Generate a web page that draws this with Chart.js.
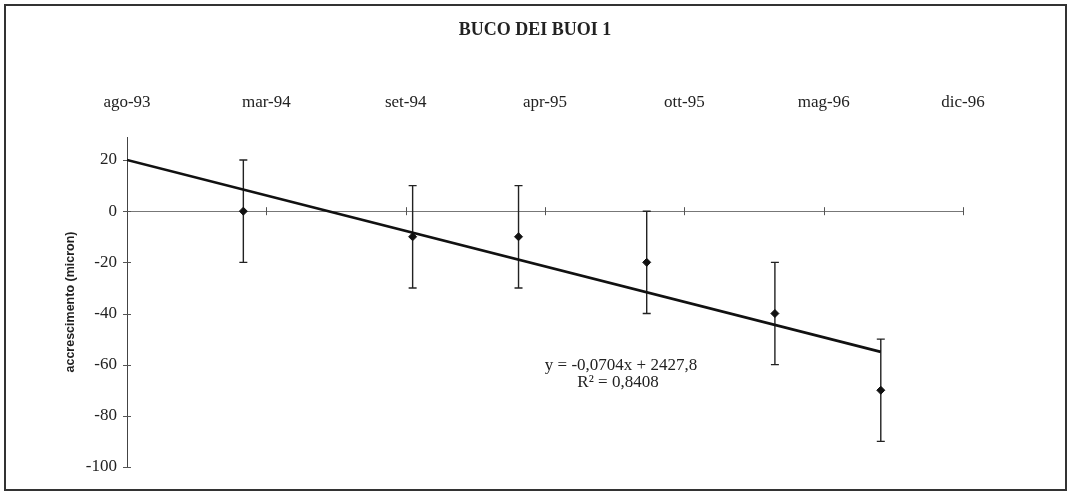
<!DOCTYPE html>
<html>
<head>
<meta charset="utf-8">
<script src="https://cdn.jsdelivr.net/npm/chart.js@4.4.0/dist/chart.umd.min.js"></script>
<style>
  html, body { margin: 0; padding: 0; background: #fff; }
  canvas { display: block; }
</style>
</head>
<body>
<canvas id="c" width="1070" height="492"></canvas>
<script>
// ---- data (x = date as spreadsheet day serial) ----
const xDates = [34368, 34611, 34763, 34947, 35131, 35283];
const yValues = [0, -10, -10, -20, -40, -70];
const yErrors = [20, 20, 20, 20, 20, 20];
const trendX = [34201, 35283];
const trendY = [20, -55];
const xTickValues = [34201, 34401, 34601, 34801, 35001, 35201, 35401];
const xTickLabels = ['ago-93', 'mar-94', 'set-94', 'apr-95', 'ott-95', 'mag-96', 'dic-96'];
const yTickValues = [-100, -80, -60, -40, -20, 0, 20];
const titleText = 'BUCO DEI BUOI 1';
const yTitleText = 'accrescimento (micron)';
const eqLine1 = 'y = -0,0704x + 2427,8';
const eqLine2 = 'R² = 0,8408';

const SERIF = '"Liberation Serif", "Times New Roman", serif';

const framePlugin = {
  id: 'frame',
  beforeDraw(chart) {
    const ctx = chart.ctx;
    ctx.save();
    ctx.fillStyle = '#fff';
    ctx.fillRect(0, 0, chart.width, chart.height);
    ctx.strokeStyle = '#333';
    ctx.lineWidth = 2;
    ctx.strokeRect(5, 5, 1061, 485);
    ctx.restore();
  }
};

const errorBarPlugin = {
  id: 'errorBars',
  beforeDatasetsDraw(chart) {
    const ctx = chart.ctx;
    const xs = chart.scales.x, ys = chart.scales.y;
    ctx.save();
    ctx.strokeStyle = '#222';
    ctx.lineWidth = 1.4;
    for (let i = 0; i < xDates.length; i++) {
      const px = xs.getPixelForValue(xDates[i]);
      const top = ys.getPixelForValue(yValues[i] + yErrors[i]);
      const bot = ys.getPixelForValue(yValues[i] - yErrors[i]);
      ctx.beginPath();
      ctx.moveTo(px, top); ctx.lineTo(px, bot);
      ctx.moveTo(px - 4, top); ctx.lineTo(px + 4, top);
      ctx.moveTo(px - 4, bot); ctx.lineTo(px + 4, bot);
      ctx.stroke();
    }
    ctx.restore();
  }
};

const crossTicksPlugin = {
  id: 'crossTicks',
  beforeDatasetsDraw(chart) {
    const ctx = chart.ctx;
    const xs = chart.scales.x, ys = chart.scales.y;
    const y0 = ys.getPixelForValue(0);
    const ax = chart.chartArea.left;
    ctx.save();
    ctx.strokeStyle = '#555';
    ctx.lineWidth = 1;
    ctx.beginPath();
    for (let i = 1; i < xTickValues.length; i++) {
      const px = Math.round(xs.getPixelForValue(xTickValues[i])) + 0.5;
      ctx.moveTo(px, y0 - 4); ctx.lineTo(px, y0 + 4);
    }
    for (const v of yTickValues) {
      const py = Math.round(ys.getPixelForValue(v)) + 0.5;
      ctx.moveTo(ax - 4, py); ctx.lineTo(ax + 4, py);
    }
    ctx.stroke();
    ctx.restore();
  }
};

const equationPlugin = {
  id: 'equation',
  afterDraw(chart) {
    const ctx = chart.ctx;
    ctx.save();
    ctx.fillStyle = '#222';
    ctx.font = '17px ' + SERIF;
    ctx.textAlign = 'center';
    ctx.textBaseline = 'middle';
    ctx.fillText(eqLine1, 621, 366);
    ctx.fillText(eqLine2, 618, 383);
    ctx.restore();
  }
};

new Chart(document.getElementById('c'), {
  type: 'scatter',
  data: {
    datasets: [
      {
        label: 'accrescimento',
        data: xDates.map((x, i) => ({ x: x, y: yValues[i] })),
        showLine: false,
        pointStyle: 'rectRot',
        pointRadius: 4,
        backgroundColor: '#111',
        borderColor: '#111',
        borderWidth: 1
      },
      {
        label: 'trend',
        data: trendX.map((x, i) => ({ x: x, y: trendY[i] })),
        showLine: true,
        pointRadius: 0,
        borderColor: '#111',
        borderWidth: 2.6,
        fill: false
      }
    ]
  },
  options: {
    responsive: false,
    animation: false,
    layout: { padding: { left: 0, top: 0, right: 0, bottom: 25 } },
    plugins: {
      legend: { display: false },
      tooltip: { enabled: false },
      title: {
        display: true,
        text: titleText,
        color: '#222',
        font: { family: SERIF, size: 18, weight: 'bold' },
        padding: { top: 19.2, bottom: 10 }
      }
    },
    scales: {
      x: {
        type: 'linear',
        position: 'top',
        min: xTickValues[0],
        max: xTickValues[xTickValues.length - 1],
        afterBuildTicks(scale) { scale.ticks = xTickValues.map(v => ({ value: v })); },
        afterFit(scale) { scale.height = 86.2; scale.paddingLeft = 0; scale.paddingRight = 107; },
        grid: { display: false, drawTicks: false },
        border: { display: false },
        ticks: {
          autoSkip: false,
          maxRotation: 0,
          padding: 23.8,
          color: '#222',
          font: { family: SERIF, size: 17 },
          callback: (v, i) => xTickLabels[i]
        }
      },
      y: {
        type: 'linear',
        min: -100,
        max: 29,
        afterBuildTicks(scale) { scale.ticks = yTickValues.map(v => ({ value: v })); },
        afterFit(scale) { scale.width = 127; scale.paddingTop = 0; scale.paddingBottom = 0; },
        grid: {
          drawTicks: false,
          color: (c) => (c.tick && c.tick.value === 0) ? '#777' : 'rgba(0,0,0,0)',
          lineWidth: 1
        },
        border: { display: true, color: '#444', width: 1 },
        title: {
          display: true,
          text: yTitleText,
          color: '#222',
          font: { family: '"Liberation Sans", Arial, sans-serif', size: 12.5, weight: 'bold' },
          padding: { top: 63.5, bottom: 0 }
        },
        ticks: {
          padding: 10,
          color: '#222',
          font: { family: SERIF, size: 17 },
          callback: (v) => String(v)
        }
      }
    }
  },
  plugins: [framePlugin, errorBarPlugin, crossTicksPlugin, equationPlugin]
});
</script>
</body>
</html>
